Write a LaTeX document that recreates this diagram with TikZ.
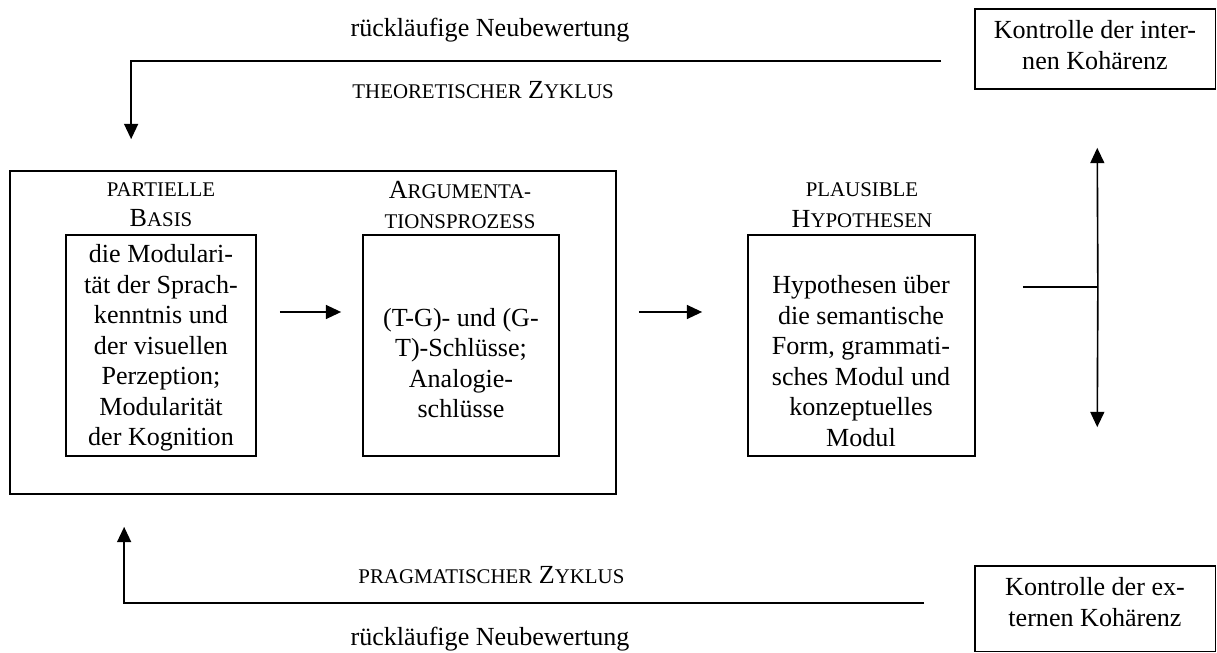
\documentclass[tikz,border=0pt]{standalone}
\usepackage{fontspec}
\setmainfont{Liberation Serif}
\usetikzlibrary{arrows.meta,calc,fit}
% faked small capitals
\newcommand\smc[1]{{\fontsize{9.6pt}{14pt}\selectfont #1}}

\begin{document}
\begin{tikzpicture}[x=0.46pt,y=-0.46pt,
  every node/.style={font=\fontsize{12pt}{14pt}\selectfont, inner sep=0pt},
  frame/.style={draw, line width=0.8pt, inner sep=0pt},
  txt/.style={align=center},
  arr/.style={line width=0.75pt, -{Triangle[length=7pt,width=6.4pt]}},
  ln/.style={line width=0.75pt}]
\useasboundingbox (0,0) rectangle (1217,653);

% frames
\node[frame, fit={(10,171) (616,494)}] (outer) {};
\node[frame, fit={(66,235) (256,456)}] (b1) {};
\node[frame, fit={(363,235) (559,456)}] (b2) {};
\node[frame, fit={(748,235) (975,456)}] (b3) {};
\node[frame, fit={(975,9) (1215.5,89)}] (ctrlI) {};
\node[frame, fit={(975,566) (1215.5,651.5)}] (ctrlE) {};

% headings
\node[txt] (h1) at (161,205) {\smc{PARTIELLE}\\B\smc{ASIS}};
\node[txt] (h2) at (460,205) {A\smc{RGUMENTA-}\\\smc{TIONSPROZESS}};
\node[txt] (h3) at (862,205) {\smc{PLAUSIBLE}\\H\smc{YPOTHESEN}};

% box contents
\node[txt] (t1) at (161,348) {die Modulari-\\tät der Sprach-\\kenntnis und\\der visuellen\\Perzeption;\\Modularität\\der Kognition};
\node[txt] (t2) at (461,363) {(T-G)- und (G-\\T)-Schlüsse;\\Analogie-\\schlüsse};
\node[txt] (t3) at (861,361) {Hypothesen über\\die semantische\\Form, grammati-\\sches Modul und\\konzeptuelles\\Modul};
\node[txt] (ki) at (1095,45) {Kontrolle der inter-\\nen Kohärenz};
\node[txt] (ke) at (1095,602) {Kontrolle der ex-\\ternen Kohärenz};

% cycle labels
\node (rt) at (490,30) {rückläufige Neubewertung};
\node[anchor=west] (zt) at (352,90) {\smc{THEORETISCHER} Z\smc{YKLUS}};
\node[anchor=west] (zp) at (358,575) {\smc{PRAGMATISCHER} Z\smc{YKLUS}};
\node[anchor=base] (rb) at (490,645) {rückläufige Neubewertung};

% main flow
\draw[arr] ($(b1.east)+(23,-33.5)$) -- ($(b2.west)+(-21,-33.5)$);
\draw[arr] ($(outer.east)+(22,-20.5)$) -- ($(b3.west)+(-45,-33.5)$);

% branching to the two checks
\coordinate (jn) at ($(b3.east)+(122,-58.5)$);
\draw[ln] ($(b3.east)+(47,-58.5)$) -- (jn);
\draw[arr] (jn) -- ($(ctrlI.south)+(2,58)$);
\draw[arr] (jn) -- ($(ctrlE.north)+(2,-138)$);

% feedback loops
\draw[arr] ($(ctrlI.west)+(-33,12)$) -| ($(outer.north west)+(122,-31)$);
\draw[arr] ($(ctrlE.west)+(-50,-6)$) -| ($(outer.south west)+(115,32)$);
\end{tikzpicture}
\end{document}
